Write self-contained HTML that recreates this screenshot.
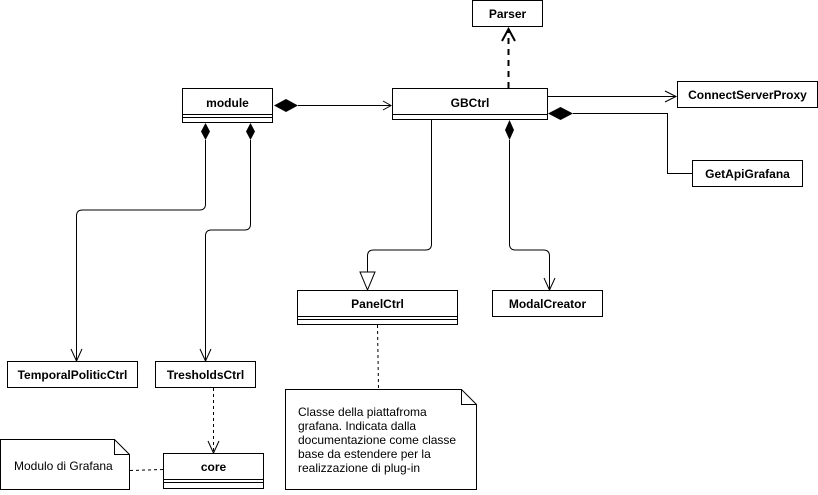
<!DOCTYPE html>
<html><head><meta charset="utf-8"><style>
html,body{margin:0;padding:0;background:#fff;}
svg text{font-family:"Liberation Sans",Arial,sans-serif;font-size:12px;}
.b{font-weight:bold;}
</style></head><body>
<svg width="818" height="490" viewBox="0 0 818 490" xmlns="http://www.w3.org/2000/svg">
<g fill="#fff" stroke="#000" stroke-width="1">
<!-- Parser -->
<rect x="472.5" y="0.5" width="70" height="26"/>
<!-- module -->
<rect x="182.5" y="88.5" width="90" height="34"/>
<line x1="182.5" y1="114.5" x2="272.5" y2="114.5"/>
<line x1="182.5" y1="117.5" x2="272.5" y2="117.5"/>
<!-- GBCtrl -->
<rect x="392.5" y="88.5" width="155" height="31"/>
<line x1="392.5" y1="114.5" x2="547.5" y2="114.5"/>
<!-- ConnectServerProxy -->
<rect x="677.5" y="81.5" width="140" height="26"/>
<!-- GetApiGrafana -->
<rect x="692.5" y="160.5" width="110" height="26"/>
<!-- PanelCtrl -->
<rect x="297.5" y="290.5" width="160" height="34"/>
<line x1="297.5" y1="316.5" x2="457.5" y2="316.5"/>
<line x1="297.5" y1="319.5" x2="457.5" y2="319.5"/>
<!-- ModalCreator -->
<rect x="492.5" y="290.5" width="110" height="26"/>
<!-- Temporal -->
<rect x="7.5" y="361.5" width="130" height="26"/>
<!-- Tresholds -->
<rect x="155.5" y="361.5" width="100" height="26"/>
<!-- core -->
<rect x="163.5" y="453.5" width="100" height="35"/>
<line x1="163.5" y1="479.5" x2="263.5" y2="479.5"/>
<line x1="163.5" y1="482.5" x2="263.5" y2="482.5"/>
<!-- notes -->
<path d="M285.5 389.5 H461.5 L476.5 404.5 V489.5 H285.5 Z"/>
<path d="M461.5 389.5 V404.5 H476.5" fill="none"/>
<path d="M0.5 439.5 H114.5 L129.5 454.5 V489.5 H0.5 Z"/>
<path d="M114.5 439.5 V454.5 H129.5" fill="none"/>
</g>
<g fill="none" stroke="#000" stroke-width="1">
<!-- module -> GBCtrl -->
<line x1="298" y1="105.5" x2="391" y2="105.5"/>
<polyline points="383,101 391,105.5 383,110"/>
<!-- GBCtrl -> ConnectServerProxy -->
<line x1="547.5" y1="96.5" x2="676" y2="96.5"/>
<polyline points="665,91 676,96.5 665,102"/>
<!-- GBCtrl -> GetApiGrafana -->
<path d="M573 113.5 H667.5 V173.5 H692"/>
<!-- Parser dependency -->
<line x1="508.5" y1="88" x2="508.5" y2="29" stroke-width="2" stroke-dasharray="6,5"/>
<polyline points="502,41 508.5,29 515,41" stroke-width="2"/>
<!-- GBCtrl -> PanelCtrl -->
<path d="M431.5 119 V244 Q431.5 250 425.5 250 H373.5 Q367.5 250 367.5 256 V272"/>
<path d="M360 272 H375 L367.5 290 Z" fill="#fff"/>
<!-- GBCtrl -> ModalCreator -->
<path d="M509.5 140 V244 Q509.5 250 515.5 250 H543.5 Q549.5 250 549.5 256 V290"/>
<polyline points="544,278 549.5,290 555,278"/>
<!-- module -> Temporal -->
<path d="M205.5 140 V204 Q205.5 210 199.5 210 H82.5 Q76.5 210 76.5 216 V361"/>
<polyline points="71,349 76.5,361 82,349"/>
<!-- module -> Tresholds -->
<path d="M250.5 140 V224 Q250.5 230 244.5 230 H211.5 Q205.5 230 205.5 236 V361"/>
<polyline points="200,349 205.5,361 211,349"/>
<!-- Tresholds -> core -->
<line x1="213.5" y1="388" x2="213.5" y2="453" stroke-dasharray="3,3"/>
<polyline points="208,441 213.5,453 219,441"/>
<!-- PanelCtrl note -->
<line x1="377.5" y1="325" x2="378.5" y2="389" stroke-dasharray="3,3"/>
<!-- core note -->
<line x1="130" y1="470.5" x2="163" y2="469.5" stroke-dasharray="3,3"/>
</g>
<g fill="#000">
<path d="M274 105.5 L286 99 L298 105.5 L286 112 Z"/>
<path d="M548 113.5 L560.5 107 L573 113.5 L560.5 120 Z"/>
<path d="M205.5 123 L201 131.5 L205.5 140 L210 131.5 Z"/>
<path d="M250.5 123 L246 131.5 L250.5 140 L255 131.5 Z"/>
<path d="M509.5 120 L505 130 L509.5 140 L514 130 Z"/>
</g>
<g text-anchor="middle" class="b">
<text x="507.5" y="18" class="b">Parser</text>
<text x="227.5" y="107" class="b">module</text>
<text x="470" y="107" class="b">GBCtrl</text>
<text x="747.5" y="99" class="b">ConnectServerProxy</text>
<text x="747.5" y="178" class="b">GetApiGrafana</text>
<text x="377.5" y="308" class="b">PanelCtrl</text>
<text x="547.5" y="308" class="b">ModalCreator</text>
<text x="72.5" y="379" class="b">TemporalPoliticCtrl</text>
<text x="205.5" y="379" class="b">TresholdsCtrl</text>
<text x="213.5" y="471" class="b">core</text>
</g>
<g>
<text x="298" y="416">Classe della piattafroma</text>
<text x="298" y="430">grafana. Indicata dalla</text>
<text x="298" y="444">documentazione come classe</text>
<text x="298" y="458">base da estendere per la</text>
<text x="298" y="472">realizzazione di plug-in</text>
<text x="14" y="470">Modulo di Grafana</text>
</g>
</svg>
</body></html>
